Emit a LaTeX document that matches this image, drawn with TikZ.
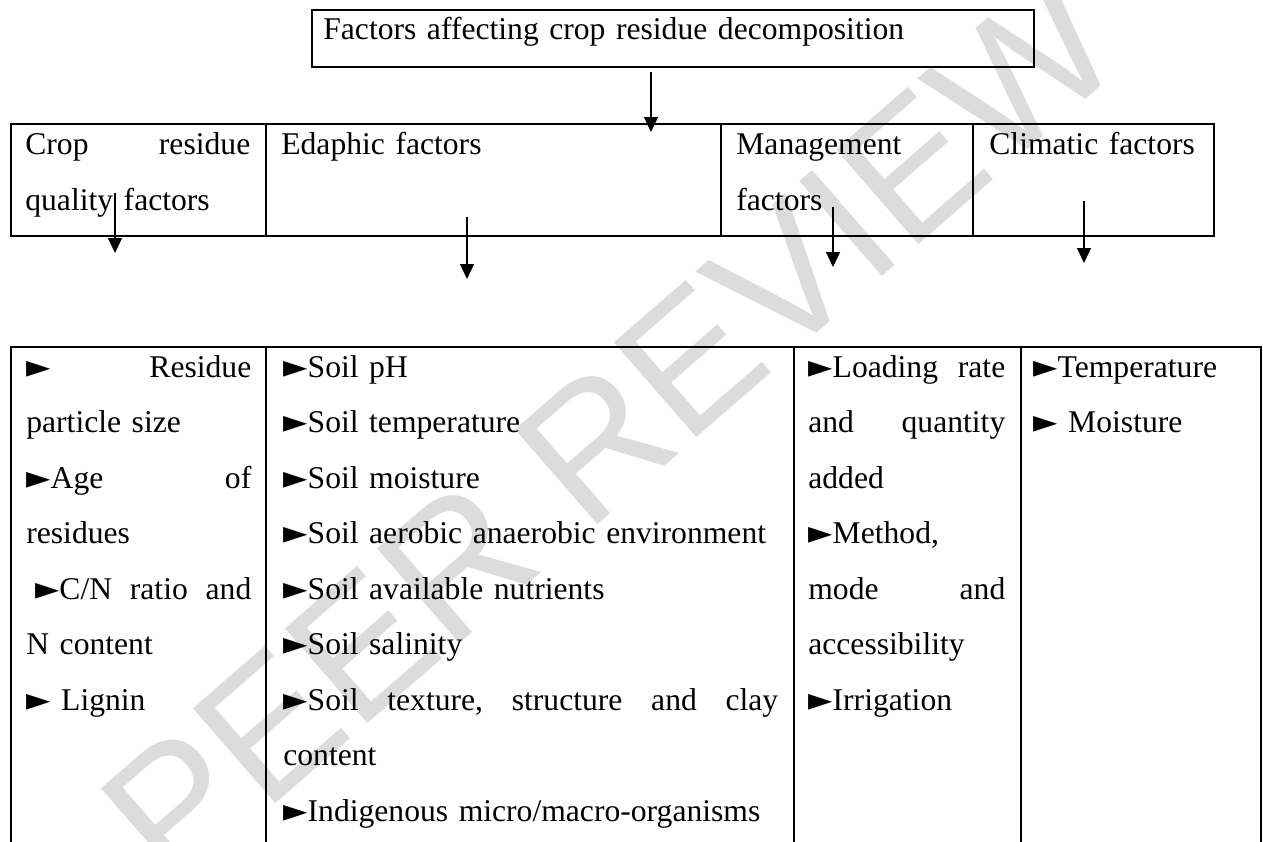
\documentclass[tikz,border=0pt]{standalone}
\usepackage{fontspec}
\setmainfont{Liberation Serif}
\newfontfamily\wmfont{Liberation Sans}
\newfontfamily\ptrfont{DejaVu Sans}
\usetikzlibrary{arrows.meta}
\definecolor{wmgray}{RGB}{220,220,220}
\newcommand{\ptr}{{\ptrfont ►}}
\newcommand{\jline}[2]{\makebox[#1][s]{#2}}
\tikzset{
    cell/.style={draw, line width=1.1pt, anchor=north west, inner sep=0pt, outer sep=0pt},
    txt/.style={anchor=base west, inner sep=0pt, align=left, font=\fontsize{18}{31.6}\selectfont},
    arr/.style={-{Triangle[length=0.3cm,width=0.28cm]}, line width=0.75pt}
}

\begin{document}
\begin{tikzpicture}[x=0.02cm,y=-0.02cm]
        \useasboundingbox (0,0) rectangle (1263,841);

        % watermark
        \node[rotate=41, text=wmgray, font=\wmfont\fontsize{104}{104}\selectfont] (wm) at (610,430) {PEER REVIEW};

        % title box
        \node[cell, minimum width=14.44cm, minimum height=1.14cm] (titlebox) at (312,10) {};
        \node[txt, text width=14cm] (title) at (323,40) {Factors affecting crop residue decomposition};

        % factor groups
        \node[cell, minimum width=5.1cm, minimum height=2.24cm] (crop) at (11,124) {};
        \node[cell, minimum width=9.1cm, minimum height=2.24cm] (eda) at (266,124) {};
        \node[cell, minimum width=5.04cm, minimum height=2.24cm] (mgmt) at (721,124) {};
        \node[cell, minimum width=4.82cm, minimum height=2.24cm] (clim) at (973,124) {};

        \node[txt, text width=4.5cm] (croptxt) at (25,155) {\jline{4.5cm}{Crop\hfill residue}\\quality factors};
        \node[txt, text width=8.5cm] (edatxt) at (281,155) {Edaphic factors};
        \node[txt, text width=4.5cm] (mgmttxt) at (736,155) {Management\\factors};
        \node[txt, text width=4.3cm] (climtxt) at (989,155) {Climatic factors};

        % lists
        \node[cell, minimum width=5.1cm, minimum height=10.66cm] (croplist) at (11,347) {};
        \node[cell, minimum width=10.56cm, minimum height=10.66cm] (edalist) at (266,347) {};
        \node[cell, minimum width=4.54cm, minimum height=10.66cm] (mgmtlist) at (794,347) {};
        \node[cell, minimum width=4.8cm, minimum height=10.66cm] (climlist) at (1021,347) {};

        \node[txt, text width=4.5cm] (croplisttxt) at (26,377) {\jline{4.5cm}{\ptr\hfill Residue}\\particle size\\\jline{4.5cm}{\ptr Age\hfill of}\\residues\\\jline{4.5cm}{\hspace{5pt}\ptr C/N\hfill ratio\hfill and}\\N content\\\ptr\ Lignin};
        \node[txt, text width=9.9cm] (edalisttxt) at (283,377) {\ptr Soil pH\\\ptr Soil temperature\\\ptr Soil moisture\\\ptr Soil aerobic anaerobic environment\\\ptr Soil available nutrients\\\ptr Soil salinity\\\jline{9.9cm}{\ptr Soil\hfill texture,\hfill structure\hfill and\hfill clay}\\content\\\ptr Indigenous micro/macro-organisms};
        \node[txt, text width=3.94cm] (mgmtlisttxt) at (808,377) {\jline{3.94cm}{\ptr Loading\hfill rate}\\\jline{3.94cm}{and\hfill quantity}\\added\\\ptr Method,\\\jline{3.94cm}{mode\hfill and}\\accessibility\\\ptr Irrigation};
        \node[txt, text width=4.3cm] (climlisttxt) at (1033,377) {\ptr Temperature\\\ptr\ Moisture};

        % arrows
        \coordinate (t1) at (651,72);   \coordinate (t2) at (651,132);
        \coordinate (c1) at (115,193);  \coordinate (c2) at (115,253);
        \coordinate (e1) at (467,217);  \coordinate (e2) at (467,279);
        \coordinate (m1) at (833,207);  \coordinate (m2) at (833,267);
        \coordinate (k1) at (1084,201); \coordinate (k2) at (1084,263);

        \draw[arr] (t1) -- (t2);
        \draw[arr] (c1) -- (c2);
        \draw[arr] (e1) -- (e2);
        \draw[arr] (m1) -- (m2);
        \draw[arr] (k1) -- (k2);
    \end{tikzpicture}
\end{document}
